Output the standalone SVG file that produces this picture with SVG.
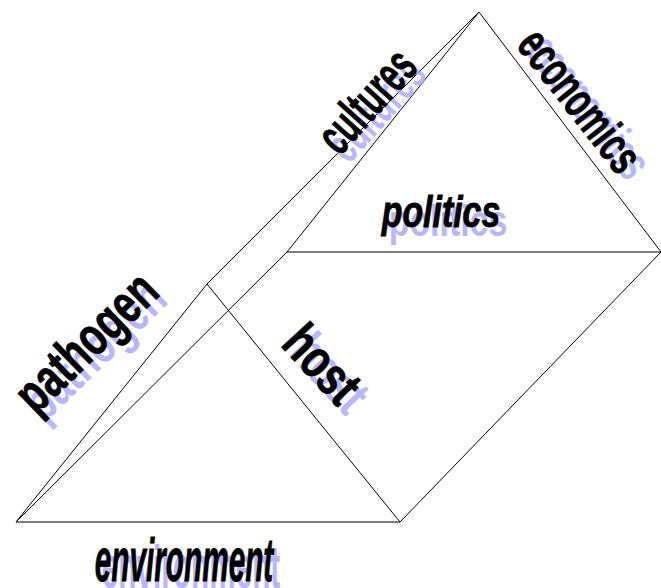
<svg xmlns="http://www.w3.org/2000/svg" width="661" height="588" viewBox="0 0 661 588">
<style>
.edge{fill:none;stroke:#000;stroke-width:1}
.lbl{font-family:"Liberation Sans",Arial,sans-serif;font-weight:bold;text-anchor:middle}
.ink{fill:#000;stroke:#000;stroke-width:0.8}
.sh{fill:#a6a6ff;opacity:0.8}
.it{font-style:italic}
</style>
<rect width="661" height="588" fill="#fff"/>
<g id="connectors">
<path class="edge" d="M16,522 L400,522 M16,522 L207,284 L400,522 M287,252 L661,252 M287,252 L479,12 L661,252 M16,522 L287,252 M207,284 L479,12 M400,522 L661,252"/>
</g>
<g id="pathogen">
<text class="lbl sh" font-size="54" transform="translate(97,353) rotate(-44) scale(0.72,1)" y="14">pathogen</text>
<text class="lbl ink" font-size="54" transform="translate(89,345) rotate(-44) scale(0.72,1)" y="14">pathogen</text>
</g>
<g id="cultures">
<text class="lbl sh" font-size="52" transform="translate(379,112) rotate(-48) scale(0.59,1)" y="13">cultures</text>
<text class="lbl ink" font-size="52" transform="translate(370,104) rotate(-48) scale(0.59,1)" y="13">cultures</text>
</g>
<g id="economics">
<text class="lbl sh" font-size="50" transform="translate(586,109) rotate(52) scale(0.64,1)" y="13">economics</text>
<text class="lbl ink" font-size="50" transform="translate(577,103) rotate(52) scale(0.64,1)" y="13">economics</text>
</g>
<g id="politics">
<text class="lbl sh" font-size="44" transform="translate(448,236) scale(0.77,1)">politics</text>
<text class="lbl ink it" font-size="44" transform="translate(441,227) scale(0.77,1)">politics</text>
</g>
<g id="host">
<text class="lbl sh" font-size="54" transform="translate(327,376) rotate(47) scale(0.75,1)" y="14">host</text>
<text class="lbl ink" font-size="54" transform="translate(319,367) rotate(47) scale(0.75,1)" y="14">host</text>
</g>
<g id="environment">
<text class="lbl sh" font-size="62" transform="translate(191,588) scale(0.48,1)">environment</text>
<text class="lbl ink it" font-size="62" transform="translate(184,581) scale(0.48,1)">environment</text>
</g>
</svg>
